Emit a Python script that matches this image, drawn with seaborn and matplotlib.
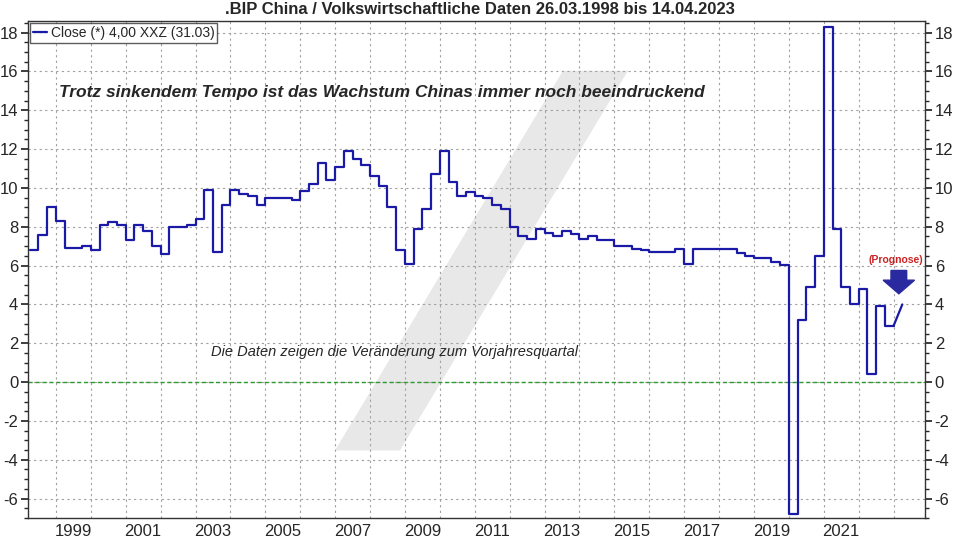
import matplotlib
matplotlib.use("Agg")
import matplotlib.pyplot as plt
from matplotlib.patches import Polygon, FancyArrow
import numpy as np
import pandas as pd
import seaborn as sns

start_year = 1998.25
values = [
    6.8, 7.6, 9.0,                      # 1998
    8.3, 6.9, 6.9, 7.0,                 # 1999
    6.8, 8.1, 8.25, 8.1,                # 2000
    7.3, 8.1, 7.8, 7.0,                 # 2001
    6.6, 8.0, 8.0, 8.1,                 # 2002
    8.4, 9.9, 6.7, 9.1,                 # 2003
    9.9, 9.7, 9.6, 9.1,                 # 2004
    9.5, 9.5, 9.5, 9.4,                 # 2005
    9.85, 10.2, 11.3, 10.4,             # 2006
    11.1, 11.9, 11.5, 11.2,             # 2007
    10.6, 10.1, 9.0, 6.8,               # 2008
    6.1, 7.9, 8.9, 10.7,                # 2009
    11.9, 10.3, 9.6, 9.8,               # 2010
    9.6, 9.5, 9.1, 8.9,                 # 2011
    8.0, 7.55, 7.35, 7.9,               # 2012
    7.7, 7.5, 7.8, 7.65,                # 2013
    7.35, 7.5, 7.3, 7.3,                # 2014
    7.0, 7.0, 6.87, 6.8,                # 2015
    6.7, 6.7, 6.7, 6.85,                # 2016
    6.1, 6.85, 6.85, 6.85,              # 2017
    6.85, 6.85, 6.67, 6.52,             # 2018
    6.4, 6.4, 6.2, 6.05,                # 2019
    -6.8, 3.2, 4.9, 6.5,                # 2020
    18.3, 7.9, 4.9, 4.0,                # 2021
    4.8, 0.4, 3.9, 2.9,                 # 2022
    2.9,                                # 2023 Q1
]
forecast_years = [2023.0, 2023.25]
forecast_values = [2.9, 4.0]

years = start_year + 0.25 * np.arange(len(values))
df = pd.DataFrame({"year": years, "value": values})

sns.set_theme(style="white")
plt.rcParams["font.family"] = ["Liberation Sans", "DejaVu Sans"]

fig = plt.figure(figsize=(9.6, 5.4), dpi=100)
ax = fig.add_axes([28 / 960, 22 / 540, 897 / 960, 497 / 540])

# watermark
wm = Polygon([[(335 - 28) / 897, (518 - 450) / 500], [(400 - 28) / 897, (518 - 450) / 500],
              [(628 - 28) / 897, (518 - 68) / 500], [(563 - 28) / 897, (518 - 68) / 500]],
             closed=True, transform=ax.transAxes, facecolor="#e8e8e8", edgecolor="none", zorder=0)
ax.add_patch(wm)

line_color = "#1a1aa6"
sns.lineplot(data=df, x="year", y="value", ax=ax, color=line_color, lw=1.6,
             drawstyle="steps-post", label="Close (*) 4,00 XXZ (31.03)", zorder=3)
ax.plot(forecast_years, forecast_values, color=line_color, lw=1.6, zorder=3)

ax.axhline(0, color="#2f9a2f", lw=1.0, ls=(0, (3, 2)), zorder=2)

ax.set_xlim(1998.2, 2023.9)
ax.set_ylim(-7.0, 18.6)

ax.set_xticks(np.arange(1999, 2024, 1))
ax.set_xticklabels([])
ax.set_xticks(np.arange(1999, 2023, 2) + 0.5, minor=True)
ax.set_xticklabels([str(y) for y in range(1999, 2023, 2)], minor=True, fontsize=12)
ax.tick_params(axis="x", which="minor", length=0, pad=4)
ax.tick_params(axis="x", which="major", length=4, direction="in")

yt = np.arange(-6, 19, 2)
ax.set_yticks(yt)
ax.set_yticklabels([str(v) for v in yt], fontsize=12)
ax.set_yticks(np.arange(-7, 18.6, 0.5), minor=True)
ax.tick_params(axis="y", which="both", left=True, right=True, labelleft=True, labelright=True,
               direction="out")
ax.tick_params(axis="y", which="major", length=5, pad=2)
ax.tick_params(axis="y", which="minor", length=3)

ax.grid(True, which="major", color="#a0a0a0", ls=(0, (2, 3)), lw=0.8)
ax.set_xlabel("")
ax.set_ylabel("")
for s in ax.spines.values():
    s.set_color("#333333")
    s.set_linewidth(1)

leg = ax.legend(loc="upper left", frameon=True, fontsize=10, handlelength=1.0,
                borderpad=0.2, borderaxespad=0.15, handletextpad=0.3, fancybox=False)
leg.get_frame().set_edgecolor("#333333")
leg.get_frame().set_linewidth(1)

fig.text(0.5, 0.997, ".BIP China / Volkswirtschaftliche Daten 26.03.1998 bis 14.04.2023",
         ha="center", va="top", fontsize=12, fontweight="bold")

ax.text(1999.1, 14.9, "Trotz sinkendem Tempo ist das Wachstum Chinas immer noch beeindruckend",
        fontsize=12.5, fontweight="bold", style="italic", va="center", ha="left")
ax.text(2008.7, 1.55, "Die Daten zeigen die Veränderung zum Vorjahresquartal",
        fontsize=10.5, style="italic", va="center", ha="center")

ax.text(2023.05, 6.3, "(Prognose)", color="#cc2222", fontsize=7.5, fontweight="bold",
        ha="center", va="center")
ax.add_patch(FancyArrow(2023.15, 5.75, 0, -1.2, width=0.45, head_width=0.9, head_length=0.7,
                        length_includes_head=True, color="#2a2aa0", zorder=4))

fig.savefig("out.png", dpi=100)
